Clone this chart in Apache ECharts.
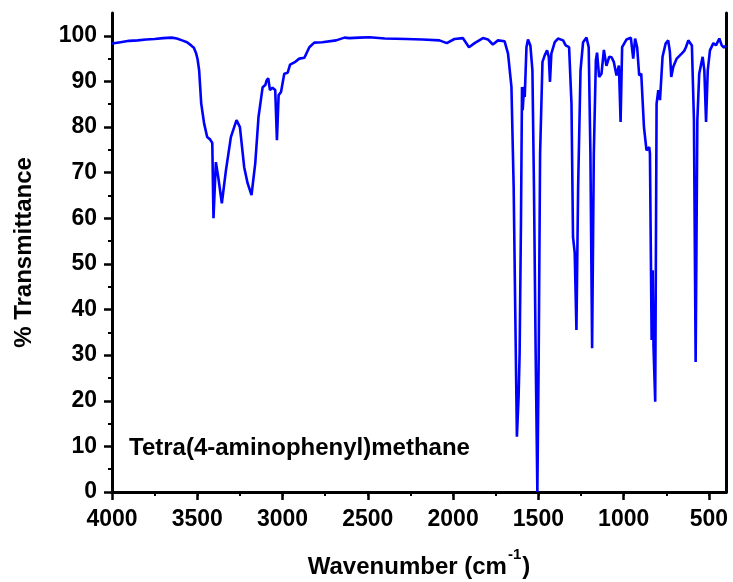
<!DOCTYPE html>
<html>
<head>
<meta charset="utf-8">
<script src="https://cdn.jsdelivr.net/npm/echarts@6/dist/echarts.min.js"></script>
<style>
  html, body { margin: 0; padding: 0; background: #fff; }
  #ir_chart { width: 733px; height: 582px; }
</style>
</head>
<body>
<div id="ir_chart"></div>
<script>
// wavenumber (cm-1) and % transmittance
var wavenumbers = [4000, 3950, 3900, 3850, 3800, 3750, 3700, 3650, 3620, 3589, 3560, 3536, 3520, 3507, 3498, 3489, 3477, 3460, 3442, 3425,
	3416, 3412, 3405, 3391, 3377, 3356, 3332, 3303, 3270, 3250, 3225, 3205, 3182, 3160, 3141, 3117, 3101, 3094, 3084, 3074,
	3059, 3043, 3033, 3023, 3009, 2990, 2970, 2956, 2925, 2902, 2872, 2843, 2814, 2767, 2686, 2637, 2608, 2550, 2491, 2400,
	2275, 2180, 2080, 2037, 1992, 1943, 1907, 1874, 1825, 1796, 1767, 1737, 1698, 1678, 1658, 1645, 1635, 1626, 1616, 1610,
	1602, 1596, 1592, 1584, 1580, 1570, 1561, 1547, 1535, 1526, 1516, 1506, 1498, 1490, 1476, 1463, 1449, 1439, 1432, 1424,
	1404, 1385, 1355, 1340, 1330, 1320, 1306, 1297, 1287, 1277, 1267, 1253, 1238, 1218, 1205, 1195, 1185, 1175, 1163, 1156,
	1144, 1130, 1116, 1101, 1085, 1071, 1058, 1042, 1028, 1018, 1009, 983, 958, 944, 933, 921, 909, 897, 881, 866,
	850, 846, 836, 830, 825, 815, 807, 797, 787, 772, 754, 739, 729, 721, 709, 689, 660, 645, 635, 621,
	611, 600, 588, 578, 568, 557, 537, 527, 517, 507, 494, 474, 459, 439, 425, 412, 400];
var transmittance = [98.3, 98.6, 98.9, 99.0, 99.2, 99.3, 99.5, 99.6, 99.4, 99.0, 98.6, 97.9, 97.4, 96.2, 94.8, 92.4, 85.2, 80.8, 77.8, 77.3,
	77.0, 76.5, 60.0, 72.3, 69.0, 63.3, 70.5, 77.8, 81.5, 80.0, 71.2, 67.7, 65.1, 72.1, 82.2, 88.7, 89.2, 90.2, 90.7, 88.1,
	88.6, 88.1, 77.1, 87.0, 87.7, 91.7, 91.9, 93.7, 94.3, 95.0, 95.2, 97.5, 98.5, 98.6, 99.0, 99.6, 99.5, 99.6, 99.7, 99.4,
	99.3, 99.2, 99.0, 98.4, 99.3, 99.5, 97.5, 98.4, 99.5, 99.2, 98.1, 99.0, 98.8, 96.1, 88.8, 66.9, 37.7, 12.1, 20.9, 30.4,
	59.6, 88.8, 83.7, 88.8, 86.6, 97.5, 99.2, 97.9, 92.4, 66.9, 30.4, 0, 30.4, 74.2, 94.3, 95.7, 96.8, 95.4, 89.9, 96.1,
	98.6, 99.4, 99.0, 97.9, 98.1, 97.5, 85.2, 55.9, 52.4, 35.5, 66.9, 92.4, 98.6, 99.6, 97.5, 74.2, 31.5, 74.2, 94.6, 96.3,
	91.0, 91.7, 96.9, 93.4, 95.4, 95.3, 94.3, 91.3, 93.5, 81.1, 97.5, 99.2, 99.6, 95.0, 99.4, 97.5, 91.3, 91.7, 80.0, 74.9,
	75.6, 74.2, 33.3, 48.6, 31.8, 19.8, 85.1, 88.1, 85.9, 95.4, 98.3, 99.0, 96.5, 91.0, 93.2, 95.0, 96.1, 96.7, 97.5, 99.0,
	99.3, 97.9, 81.5, 28.5, 81.5, 91.7, 95.4, 92.4, 81.1, 92.4, 96.8, 98.4, 97.9, 99.4, 97.9, 97.4, 97.9];

var xMajorTicks = [500, 1000, 1500, 2000, 2500, 3000, 3500, 4000];
var xMinorTicks = [750, 1250, 1750, 2250, 2750, 3250, 3750];
var xTopTicks = [500, 750, 1000, 1250, 1500, 1750, 2000, 2250, 2500, 2750, 3000, 3250, 3500, 3750];
var yMajorTicks = [0, 10, 20, 30, 40, 50, 60, 70, 80, 90, 100];
var yMinorTicks = [5, 15, 25, 35, 45, 55, 65, 75, 85, 95];

var sampleName = 'Tetra(4-aminophenyl)methane';

var fontFam = "'Liberation Sans', Arial, sans-serif";
var myChart = echarts.init(document.getElementById('ir_chart'), null, {renderer: 'canvas'});

var seriesData = [];
for (var i = 0; i < wavenumbers.length; i++) {
	seriesData.push([wavenumbers[i], transmittance[i]]);
}

var frameLine = {show: true, lineStyle: {color: '#000', width: 3}};

var option = {
	backgroundColor: '#fff',
	animation: false,
	title: {
		text: sampleName,
		left: 129,
		top: 436,
		padding: 0,
		textStyle: {fontFamily: fontFam, fontSize: 24, fontWeight: 'bold', color: '#000'}
	},
	grid: {left: 112, right: 7, top: 13, bottom: 90, containLabel: false, outerBoundsMode: 'none'},
	xAxis: [
		{
			type: 'value', inverse: true, min: 400, max: 4000, position: 'bottom',
			axisLine: frameLine,
			axisTick: {show: true, length: 8, customValues: xMajorTicks, lineStyle: {color: '#000', width: 2.5}},
			axisLabel: {
				customValues: xMajorTicks, margin: 16, color: '#000', fontFamily: fontFam, fontSize: 23, fontWeight: 'bold',
				formatter: function (v) { return String(v); }
			},
			splitLine: {show: false},
			name: '{b|Wavenumber (cm}{s|-1}{b|)}',
			nameLocation: 'middle',
			nameGap: 55,
			nameTextStyle: {
				rich: {
					b: {fontFamily: fontFam, fontSize: 24, fontWeight: 'bold', color: '#000', lineHeight: 32, verticalAlign: 'bottom'},
					s: {fontFamily: fontFam, fontSize: 15, fontWeight: 'bold', color: '#000', lineHeight: 15, verticalAlign: 'top', padding: [0, 1, 0, 1]}
				}
			}
		},
		{
			type: 'value', inverse: true, min: 400, max: 4000, position: 'bottom',
			axisLine: {show: false},
			axisTick: {show: true, length: 4, customValues: xMinorTicks, lineStyle: {color: '#000', width: 2}},
			axisLabel: {show: false},
			splitLine: {show: false}
		},
		{
			type: 'value', inverse: true, min: 400, max: 4000, position: 'top',
			axisLine: frameLine,
			axisTick: {show: true, inside: true, length: 4, customValues: xTopTicks, lineStyle: {color: '#000', width: 1.5}},
			axisLabel: {show: false},
			splitLine: {show: false}
		}
	],
	yAxis: [
		{
			type: 'value', min: 0, max: 105, position: 'left',
			axisLine: frameLine,
			axisTick: {show: true, length: 8, customValues: yMajorTicks, lineStyle: {color: '#000', width: 2.5}},
			axisLabel: {customValues: yMajorTicks, margin: 15, color: '#000', fontFamily: fontFam, fontSize: 23, fontWeight: 'bold'},
			splitLine: {show: false},
			name: '% Transmittance',
			nameLocation: 'middle',
			nameGap: 76,
			nameTextStyle: {fontFamily: fontFam, fontSize: 24, fontWeight: 'bold', color: '#000'}
		},
		{
			type: 'value', min: 0, max: 105, position: 'left',
			axisLine: {show: false},
			axisTick: {show: true, length: 4, customValues: yMinorTicks, lineStyle: {color: '#000', width: 2}},
			axisLabel: {show: false},
			splitLine: {show: false}
		},
		{
			type: 'value', min: 0, max: 105, position: 'right',
			axisLine: frameLine,
			axisTick: {show: false},
			axisLabel: {show: false},
			splitLine: {show: false}
		}
	],
	series: [
		{
			name: sampleName,
			type: 'line',
			xAxisIndex: 0,
			yAxisIndex: 0,
			data: seriesData,
			symbol: 'none',
			smooth: false,
			lineStyle: {color: '#0000ff', width: 2.6}
		}
	]
};
myChart.setOption(option);
</script>
</body>
</html>
